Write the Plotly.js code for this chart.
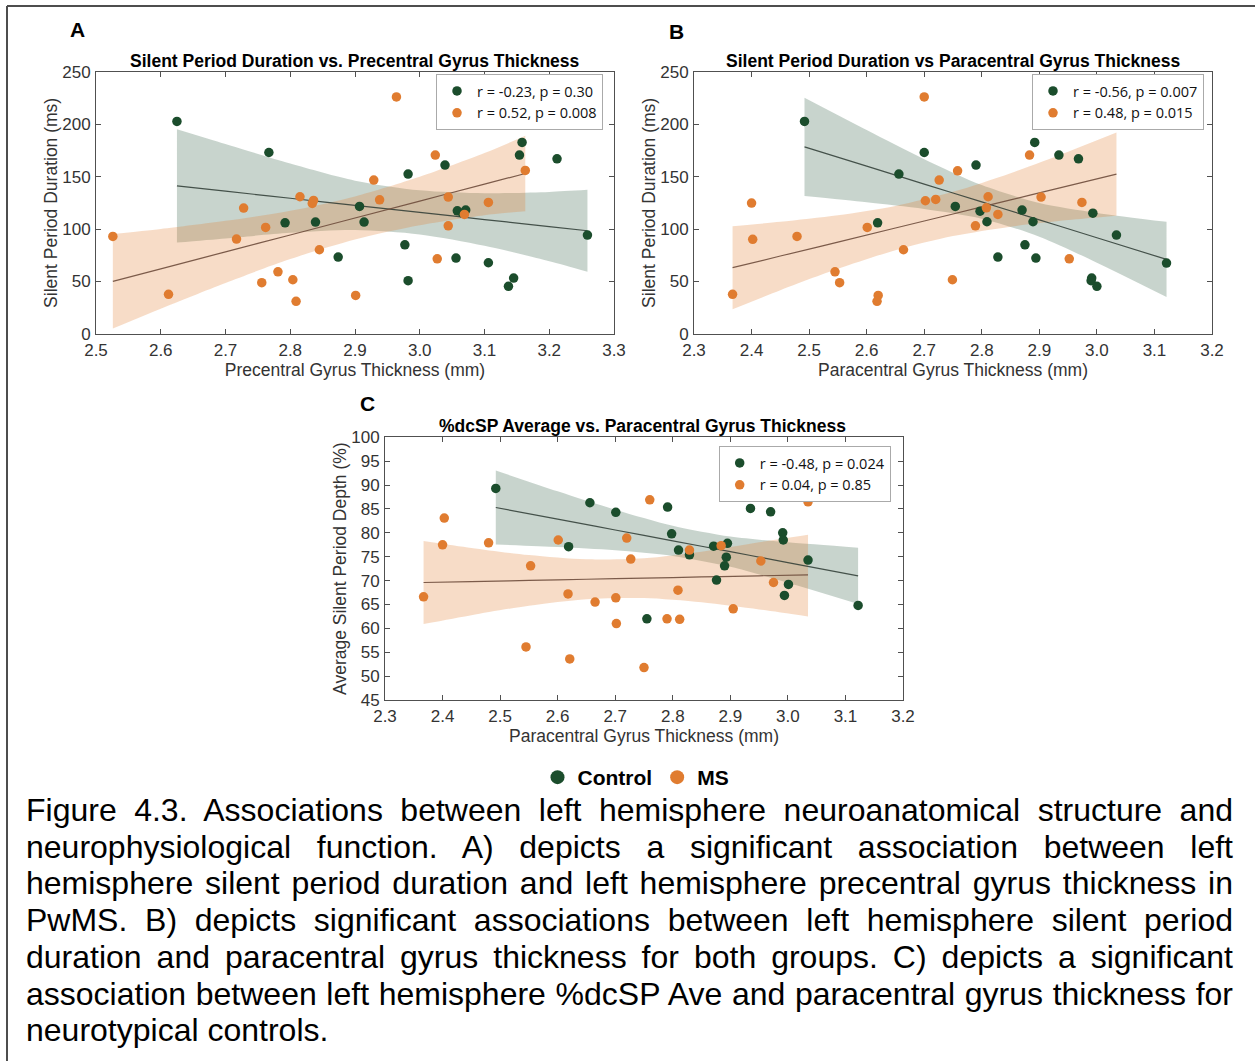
<!DOCTYPE html>
<html>
<head>
<meta charset="utf-8">
<script src="https://cdn.plot.ly/plotly-3.0.1.min.js"></script>
<style>
  html, body { margin: 0; padding: 0; background: #fff; }
  #wrap { position: relative; width: 1255px; height: 1061px; overflow: hidden; }
  #chart { position: absolute; left: 0; top: 0; width: 1255px; height: 1061px; }
  #caption {
    position: absolute; left: 26px; top: 792px; width: 1207px;
    font-family: "Liberation Sans", Arial, sans-serif; font-size: 32px;
    line-height: 36.7px; color: #000;
  }
  #caption .ln { white-space: nowrap; text-align: justify; text-align-last: justify; }
  #caption .ln.last { text-align-last: left; }
</style>
</head>
<body>
<div id="wrap">
  <div id="chart"></div>
  <div id="caption">
    <div class="ln">Figure 4.3. Associations between left hemisphere neuroanatomical structure and</div>
    <div class="ln">neurophysiological function. A) depicts a significant association between left</div>
    <div class="ln">hemisphere silent period duration and left hemisphere precentral gyrus thickness in</div>
    <div class="ln">PwMS. B) depicts significant associations between left hemisphere silent period</div>
    <div class="ln">duration and paracentral gyrus thickness for both groups. C) depicts a significant</div>
    <div class="ln">association between left hemisphere %dcSP Ave and paracentral gyrus thickness for</div>
    <div class="ln last">neurotypical controls.</div>
  </div>
</div>
<script>
// ---------- Panel A: silent period duration vs precentral gyrus thickness ----------
const precentralCtrl = [2.625, 2.767, 2.792, 2.839, 2.874, 2.907, 2.914, 2.982, 2.977, 2.982, 3.039,
                        3.056, 3.058, 3.071, 3.066, 3.106, 3.137, 3.145, 3.154, 3.158, 3.212, 3.259];
const spDurCtrlA    = [202.6, 173, 106, 106.7, 73.3, 121.6, 106.7, 152.4, 85, 50.8, 161,
                        72.4, 117.4, 118.1, 115.2, 67.9, 45.4, 53.3, 170.5, 182.6, 167, 94.3];
const precentralMS  = [2.526, 2.612, 2.717, 2.728, 2.762, 2.756, 2.781, 2.804, 2.809, 2.815, 2.834, 2.836, 2.845,
                        2.901, 2.929, 2.938, 2.964, 3.024, 3.027, 3.044, 3.044, 3.069, 3.082, 3.106, 3.163];
const spDurMSA      = [93, 37.8, 90.5, 120, 101.6, 48.9, 59.3, 51.7, 31.1, 130.8, 124.4, 127.3, 80.3,
                        36.8, 146.7, 127.9, 226, 170.5, 71.7, 130.5, 103.1, 114, 200, 125.4, 155.9];
// fitted lines and 95% confidence bands
const fitA_ctrl_x = [2.625, 2.7, 2.8, 2.9, 3.0, 3.1, 3.2, 3.259];
const fitA_ctrl_y = [141.2, 136.1, 129.4, 122.6, 115.9, 109.1, 102.4, 98.4];
const fitA_ctrl_hi = [195.2, 181.1, 162.4, 146.1, 136.9, 134.1, 135.4, 137.4];
const fitA_ctrl_lo = [87.2, 91.1, 96.4, 99.1, 94.9, 84.1, 69.4, 59.4];
const fitA_ms_x  = [2.526, 2.6, 2.7, 2.8, 2.9, 3.0, 3.1, 3.163];
const fitA_ms_y  = [50.2, 62.1, 78.3, 94.4, 110.6, 126.7, 142.8, 153.0];
const fitA_ms_hi = [95.2, 100.1, 107.9, 117.4, 131.1, 149.8, 172.4, 188.9];
const fitA_ms_lo = [5.2, 24.1, 48.7, 71.4, 90.1, 103.6, 113.2, 117.1];

// ---------- Panel B: silent period duration vs paracentral gyrus thickness ----------
const paracentralCtrlB = [2.492, 2.700, 2.656, 2.619, 2.754, 2.790, 2.797, 2.809, 2.828, 2.870, 2.875,
                          2.889, 2.892, 2.894, 2.934, 2.968, 2.993, 2.991, 2.990, 3.000, 3.034, 3.121];
const spDurCtrlB       = [202.6, 173, 152.4, 106, 121.6, 161, 117.1, 107, 73.3, 118.1, 85,
                          107, 182.6, 72.4, 170.5, 167, 115.2, 53.3, 50.8, 45.4, 94.3, 67.6];
const paracentralMSB   = [2.700, 2.400, 2.402, 2.479, 2.367, 2.601, 2.664, 2.545, 2.553, 2.620, 2.618, 2.726, 2.702,
                          2.720, 2.749, 2.758, 2.811, 2.808, 2.828, 2.789, 2.883, 2.903, 2.952, 2.974, 3.034];
const spDurMSB         = [226, 124.8, 90.2, 93, 37.8, 101.6, 80.3, 59.3, 48.9, 36.8, 31.1, 146.7, 127,
                          128.3, 51.7, 155.5, 130.8, 120.3, 114, 103.1, 170.5, 130.5, 71.7, 125.4, 200];
const fitB_ctrl_x  = [2.492, 2.6, 2.7, 2.8, 2.9, 3.0, 3.121];
const fitB_ctrl_y  = [178.4, 160.0, 142.9, 125.9, 108.8, 91.7, 71.1];
const fitB_ctrl_hi = [225.2, 194.4, 166.6, 141.9, 124.8, 115.4, 106.9];
const fitB_ctrl_lo = [131.6, 125.6, 119.2, 109.9, 92.8, 68.0, 35.3];
const fitB_ms_x  = [2.367, 2.45, 2.55, 2.65, 2.75, 2.85, 2.95, 3.034];
const fitB_ms_y  = [63.2, 74.3, 87.6, 101.0, 114.4, 127.8, 141.2, 152.4];
const fitB_ms_hi = [102.8, 106.9, 113.1, 122.1, 135.5, 153.3, 173.8, 192.0];
const fitB_ms_lo = [23.6, 41.7, 62.1, 79.9, 93.3, 102.3, 108.6, 112.8];

// ---------- Panel C: %dcSP average vs paracentral gyrus thickness ----------
const paracentralCtrlC = [2.4925, 2.656, 2.701, 2.619, 2.791, 2.798, 2.810, 2.829, 2.755, 2.871, 2.876,
                          2.895, 2.893, 2.890, 2.935, 2.970, 2.991, 2.992, 3.001, 2.994, 3.035, 3.122];
const dcspCtrl         = [89.3, 86.3, 84.3, 77.1, 85.4, 79.8, 76.4, 75.4, 62.0, 77.2, 70.1,
                          77.8, 74.9, 73.1, 85.1, 84.4, 80.0, 78.5, 69.2, 66.9, 74.3, 64.8];
const paracentralMSC   = [2.403, 2.400, 2.480, 2.367, 2.553, 2.601, 2.618, 2.665, 2.701, 2.702, 2.545, 2.621, 2.720,
                          2.727, 2.760, 2.829, 2.884, 2.809, 2.790, 2.812, 2.750, 2.905, 2.953, 2.975, 3.035];
const dcspMS           = [83.1, 77.5, 77.9, 66.6, 73.1, 78.5, 67.2, 65.5, 66.4, 61.0, 56.1, 53.6, 78.9,
                          74.5, 86.9, 76.4, 77.3, 68.0, 62.0, 61.9, 51.8, 64.1, 74.1, 69.6, 86.5];
const fitC_ctrl_x  = [2.4925, 2.6, 2.7, 2.8, 2.9, 3.0, 3.122];
const fitC_ctrl_y  = [85.3, 82.86, 80.59, 78.32, 76.05, 73.78, 71.0];
const fitC_ctrl_hi = [93.05, 88.69, 84.83, 81.48, 79.21, 78.02, 76.9];
const fitC_ctrl_lo = [77.55, 77.03, 76.35, 75.16, 72.89, 69.54, 65.1];
const fitC_ms_x  = [2.367, 2.45, 2.55, 2.65, 2.75, 2.85, 2.95, 3.035];
const fitC_ms_y  = [69.6, 69.8, 70.04, 70.28, 70.52, 70.76, 71.0, 71.2];
const fitC_ms_hi = [78.3, 76.84, 75.34, 74.45, 74.69, 76.06, 78.04, 79.6];
const fitC_ms_lo = [60.9, 62.76, 64.74, 66.11, 66.35, 65.46, 63.96, 62.46];

// legend labels with correlation statistics
const statsA = ["r = -0.23, p = 0.30", "r = 0.52, p = 0.008"];
const statsB = ["r = -0.56, p = 0.007", "r = 0.48, p = 0.015"];
const statsC = ["r = -0.48, p = 0.024", "r = 0.04, p = 0.85"];
const groups = ["Control", "MS"];

const GREEN = "#1b4d2c";
const ORANGE = "#e07c30";
const GREEN_BAND = "rgba(27,77,44,0.24)";
const ORANGE_BAND = "rgba(224,124,48,0.27)";
const GREEN_FIT = "rgba(45,58,50,0.85)";
const ORANGE_FIT = "rgba(110,76,60,0.9)";
const SANS = "Liberation Sans, Arial, sans-serif";

function band(x, lo, hi, fillColor, xa, ya) {
  return [
    { x: x, y: lo, xaxis: xa, yaxis: ya, type: "scatter", mode: "lines",
      line: { width: 0, shape: "spline", smoothing: 0.8 }, hoverinfo: "skip", showlegend: false },
    { x: x, y: hi, xaxis: xa, yaxis: ya, type: "scatter", mode: "lines", fill: "tonexty",
      fillcolor: fillColor, line: { width: 0, shape: "spline", smoothing: 0.8 },
      hoverinfo: "skip", showlegend: false }
  ];
}
function fitLine(x, y, color, xa, ya) {
  return { x: x, y: y, xaxis: xa, yaxis: ya, type: "scatter", mode: "lines",
           line: { color: color, width: 1.2, shape: "spline" }, hoverinfo: "skip", showlegend: false };
}
function points(x, y, color, name, legend, xa, ya) {
  return { x: x, y: y, xaxis: xa, yaxis: ya, type: "scatter", mode: "markers", name: name,
           legend: legend, marker: { color: color, size: 9.5 } };
}

const data = [].concat(
  band(fitA_ctrl_x, fitA_ctrl_lo, fitA_ctrl_hi, GREEN_BAND, "x", "y"),
  band(fitA_ms_x, fitA_ms_lo, fitA_ms_hi, ORANGE_BAND, "x", "y"),
  [fitLine(fitA_ctrl_x, fitA_ctrl_y, GREEN_FIT, "x", "y"),
   fitLine(fitA_ms_x, fitA_ms_y, ORANGE_FIT, "x", "y"),
   points(precentralCtrl, spDurCtrlA, GREEN, statsA[0], "legend", "x", "y"),
   points(precentralMS, spDurMSA, ORANGE, statsA[1], "legend", "x", "y")],

  band(fitB_ctrl_x, fitB_ctrl_lo, fitB_ctrl_hi, GREEN_BAND, "x2", "y2"),
  band(fitB_ms_x, fitB_ms_lo, fitB_ms_hi, ORANGE_BAND, "x2", "y2"),
  [fitLine(fitB_ctrl_x, fitB_ctrl_y, GREEN_FIT, "x2", "y2"),
   fitLine(fitB_ms_x, fitB_ms_y, ORANGE_FIT, "x2", "y2"),
   points(paracentralCtrlB, spDurCtrlB, GREEN, statsB[0], "legend2", "x2", "y2"),
   points(paracentralMSB, spDurMSB, ORANGE, statsB[1], "legend2", "x2", "y2")],

  band(fitC_ctrl_x, fitC_ctrl_lo, fitC_ctrl_hi, GREEN_BAND, "x3", "y3"),
  band(fitC_ms_x, fitC_ms_lo, fitC_ms_hi, ORANGE_BAND, "x3", "y3"),
  [fitLine(fitC_ctrl_x, fitC_ctrl_y, GREEN_FIT, "x3", "y3"),
   fitLine(fitC_ms_x, fitC_ms_y, ORANGE_FIT, "x3", "y3"),
   points(paracentralCtrlC, dcspCtrl, GREEN, statsC[0], "legend3", "x3", "y3"),
   points(paracentralMSC, dcspMS, ORANGE, statsC[1], "legend3", "x3", "y3")],

  // group key shared by all panels
  [{ x: [null], y: [null], xaxis: "x", yaxis: "y", type: "scatter", mode: "markers", name: groups[0],
     legend: "legend4", marker: { color: GREEN, size: 14 } },
   { x: [null], y: [null], xaxis: "x", yaxis: "y", type: "scatter", mode: "markers", name: groups[1],
     legend: "legend4", marker: { color: ORANGE, size: 14 } }]
);

const W = 1255, H = 1061;
const px = v => v / W;
const py = v => 1 - v / H;

function xAxis(domain, anchor, range, title) {
  return {
    domain: domain, anchor: anchor, range: range, dtick: 0.1, tick0: 2.3, tickformat: ".1f",
    showgrid: false, zeroline: false, showline: true, mirror: "ticks",
    linecolor: "#505050", linewidth: 1, ticks: "inside", ticklen: 5, tickcolor: "#505050",
    tickfont: { family: SANS, size: 17, color: "#333" }, ticklabelstandoff: 1,
    title: { text: title, font: { family: SANS, size: 17.5, color: "#333" }, standoff: 0 },
    automargin: false, fixedrange: true
  };
}
function yAxis(domain, anchor, range, dtick, title) {
  return {
    domain: domain, anchor: anchor, range: range, dtick: dtick,
    showgrid: false, zeroline: false, showline: true, mirror: "ticks",
    linecolor: "#505050", linewidth: 1, ticks: "inside", ticklen: 5, tickcolor: "#505050",
    tickfont: { family: SANS, size: 17, color: "#333" }, ticklabelstandoff: 1,
    title: { text: title, font: { family: SANS, size: 17.5, color: "#333" }, standoff: 0 },
    automargin: false, fixedrange: true
  };
}
function panelLegend(right, top) {
  return {
    x: px(right), y: py(top), xanchor: "right", yanchor: "top", traceorder: "normal",
    bgcolor: "#fff", bordercolor: "#aaa", borderwidth: 1,
    font: { family: "Open Sans, sans-serif", size: 14.5, color: "#111" },
    itemwidth: 30, tracegroupgap: 0
  };
}
function label(text, x, y, size) {
  return { text: text, x: px(x), y: py(y), xref: "paper", yref: "paper",
           xanchor: "center", yanchor: "middle", showarrow: false,
           font: { family: SANS, size: size, color: "#000", weight: "bold" } };
}

const layout = {
  width: W, height: H,
  margin: { l: 0, r: 0, t: 0, b: 0 },
  paper_bgcolor: "#fff", plot_bgcolor: "#fff",
  font: { family: SANS },
  xaxis: xAxis([px(96), px(614)], "y", [2.5, 3.3], "Precentral Gyrus Thickness (mm)"),
  yaxis: yAxis([py(334), py(71.7)], "x", [0, 250], 50, "Silent Period Duration (ms)"),
  xaxis2: xAxis([px(694), px(1212)], "y2", [2.3, 3.2], "Paracentral Gyrus Thickness (mm)"),
  yaxis2: yAxis([py(334), py(71.7)], "x2", [0, 250], 50, "Silent Period Duration (ms)"),
  xaxis3: xAxis([px(385), px(903)], "y3", [2.3, 3.2], "Paracentral Gyrus Thickness (mm)"),
  yaxis3: yAxis([py(700), py(437.3)], "x3", [45, 100], 5, "Average Silent Period Depth (%)"),
  legend: panelLegend(603, 74),
  legend2: panelLegend(1204, 74),
  legend3: panelLegend(890.7, 446),
  legend4: {
    orientation: "h", x: px(636), y: py(757), xanchor: "center", yanchor: "top",
    traceorder: "normal", bgcolor: "rgba(0,0,0,0)", borderwidth: 0,
    font: { family: SANS, size: 21, color: "#000", weight: "bold" },
    itemwidth: 30
  },
  annotations: [
    label("A", 77, 29, 21),
    label("B", 676, 31, 21),
    label("C", 367, 403, 21),
    label("Silent Period Duration vs. Precentral Gyrus Thickness", 355, 61, 17.5),
    label("Silent Period Duration vs Paracentral Gyrus Thickness", 953, 61, 17.5),
    label("%dcSP Average vs. Paracentral Gyrus Thickness", 642, 426, 17.5)
  ],
  shapes: [
    { type: "line", xref: "paper", yref: "paper", x0: px(7), x1: 1, y0: py(6), y1: py(6),
      line: { color: "#4d4d4d", width: 2 } },
    { type: "line", xref: "paper", yref: "paper", x0: px(7), x1: px(7), y0: py(6), y1: 0,
      line: { color: "#4d4d4d", width: 2 } }
  ],
  hovermode: false
};

Plotly.newPlot("chart", data, layout, { displayModeBar: false, staticPlot: true });
</script>
</body>
</html>
